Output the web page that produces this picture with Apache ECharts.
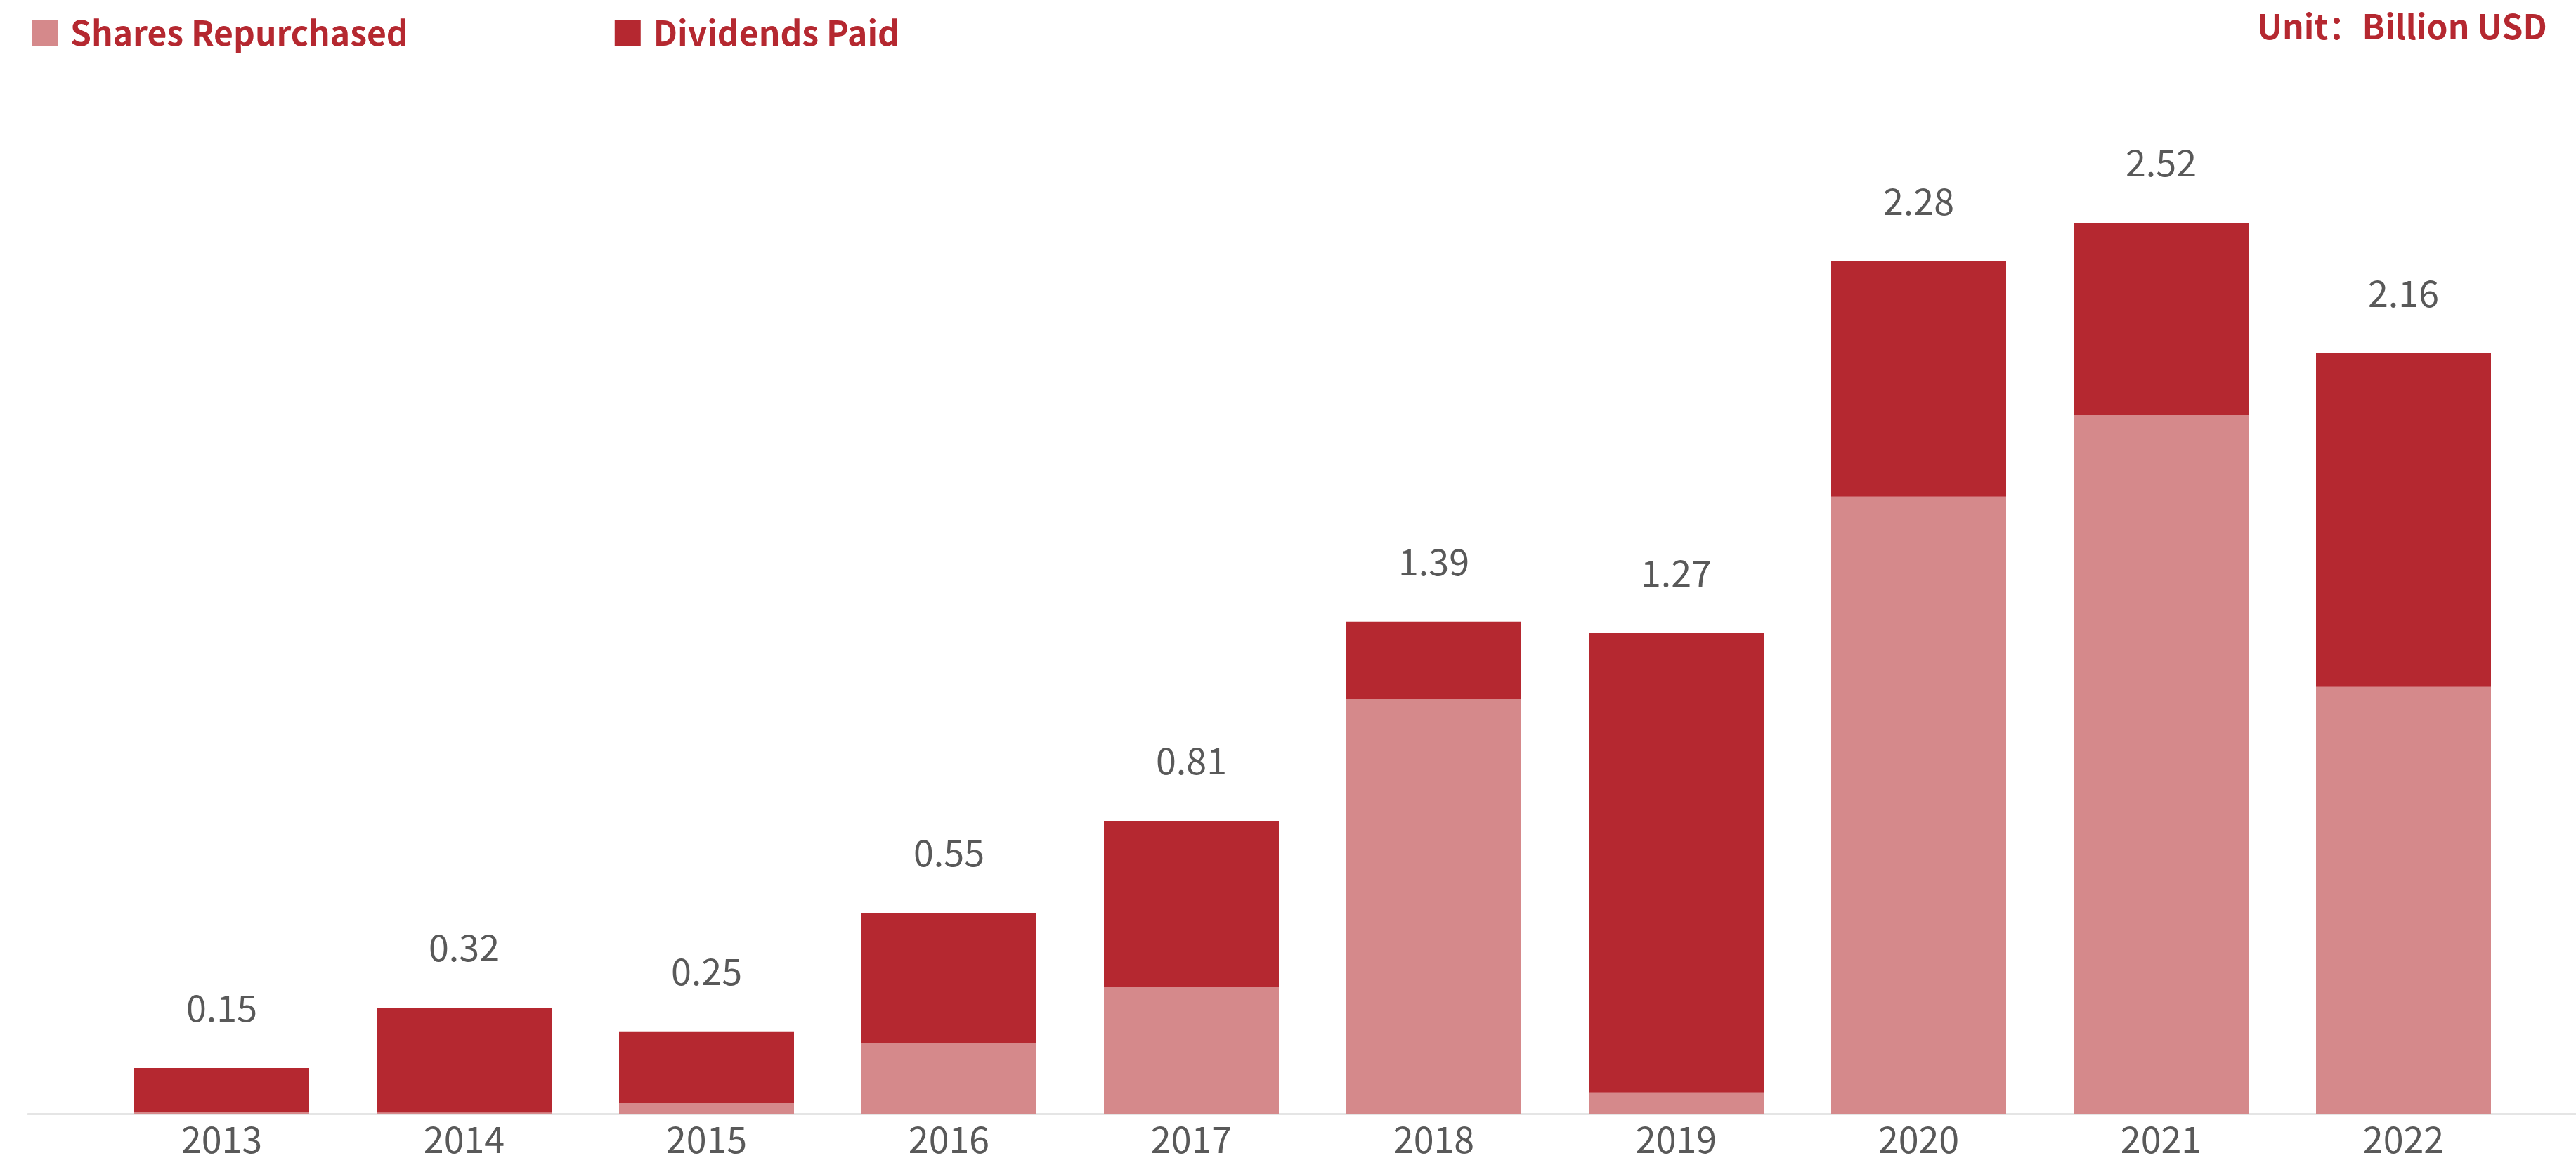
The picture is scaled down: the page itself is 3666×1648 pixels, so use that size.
<!DOCTYPE html>
<html>
<head>
<meta charset="utf-8">
<script src="https://cdn.jsdelivr.net/npm/echarts@6/dist/echarts.min.js"></script>
<style>
  html, body { margin: 0; padding: 0; background: #fff; }
  #chart { width: 3666px; height: 1648px; }
</style>
</head>
<body>
<div id="chart"></div>
<script>
// years on the x axis
const years = ['2013', '2014', '2015', '2016', '2017', '2018', '2019', '2020', '2021', '2022'];
// bar segments, billion USD
const sharesRepurchased = [0.005, 0.003, 0.03, 0.2, 0.36, 1.173, 0.06, 1.746, 1.978, 1.209];
const dividendsPaid = [0.124, 0.297, 0.203, 0.368, 0.469, 0.219, 1.3, 0.666, 0.543, 0.942];
// totals printed above each bar
const totalLabels = ['0.15', '0.32', '0.25', '0.55', '0.81', '1.39', '1.27', '2.28', '2.52', '2.16'];

const lightRed = '#D5898B';
const darkRed = '#B52830';
const font = 'Noto Sans CJK SC';

const chart = echarts.init(document.getElementById('chart'));

chart.setOption({
    backgroundColor: '#fff',
    animation: false,
    title: {
        text: 'Unit：Billion USD',
        left: 3212,
        top: 14,
        padding: 0,
        textStyle: { fontFamily: font, fontSize: 48, fontWeight: 'bold', color: darkRed }
    },
    legend: {
        left: 40,
        top: 18,
        itemWidth: 37,
        itemHeight: 37,
        itemGap: 294,
        icon: 'rect',
        data: ['Shares Repurchased', 'Dividends Paid'],
        textStyle: {
            fontFamily: font,
            fontSize: 48,
            fontWeight: 'bold',
            color: darkRed,
            width: 480,
            padding: [0, 0, 0, 13]
        }
    },
    grid: [
        { left: 143, right: 73, top: 76, bottom: 63, outerBoundsMode: 'none' },
        // only used to draw the long baseline under the bars
        { left: 40, right: 0, bottom: 63, height: 1, outerBoundsMode: 'none' }
    ],
    xAxis: [
        {
            type: 'category',
            data: years,
            gridIndex: 0,
            axisLine: { show: false },
            axisTick: { show: false },
            axisLabel: { fontFamily: font, fontSize: 52, color: '#595959', margin: 10 }
        },
        {
            type: 'category',
            data: [],
            gridIndex: 1,
            axisLine: { lineStyle: { color: '#E5E5E5', width: 3 } },
            axisTick: { show: false },
            axisLabel: { show: false }
        }
    ],
    yAxis: [
        { type: 'value', gridIndex: 0, min: 0, max: 3, show: false },
        { type: 'value', gridIndex: 1, show: false }
    ],
    series: [
        {
            name: 'Shares Repurchased',
            type: 'bar',
            stack: 'total',
            barWidth: 249,
            itemStyle: { color: lightRed },
            data: sharesRepurchased
        },
        {
            name: 'Dividends Paid',
            type: 'bar',
            stack: 'total',
            barWidth: 249,
            itemStyle: { color: darkRed },
            label: {
                show: true,
                position: 'top',
                distance: 60,
                fontFamily: font,
                fontSize: 52,
                color: '#595959',
                formatter: p => totalLabels[p.dataIndex]
            },
            data: dividendsPaid
        }
    ]
});
</script>
</body>
</html>
